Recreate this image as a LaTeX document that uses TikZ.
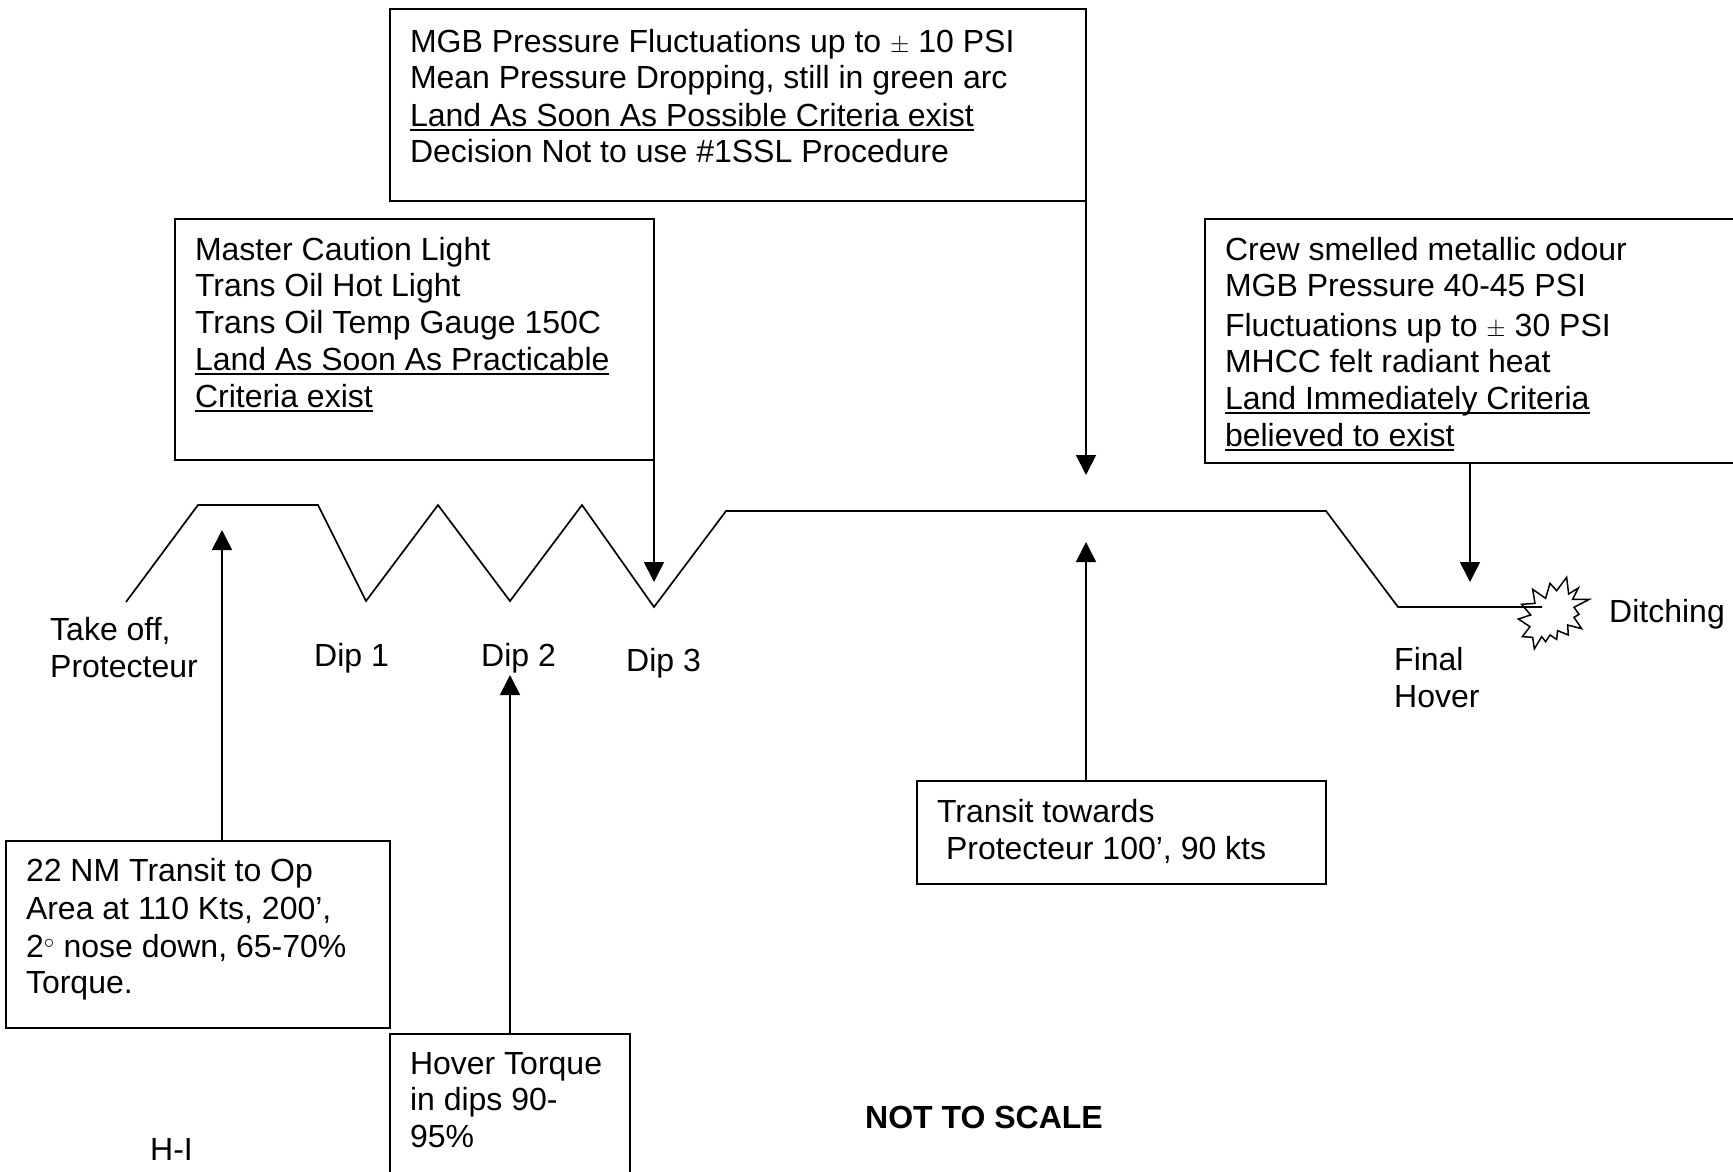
\documentclass[tikz,border=0pt]{standalone}
\usepackage{fontspec}
\setmainfont{Liberation Sans}
\newlength{\undlwd}
\newcommand{\undl}[1]{\leavevmode\settowidth{\undlwd}{#1}\rlap{\rule[-4.5pt]{\undlwd}{1.8pt}}#1}
\usetikzlibrary{arrows.meta, calc}

\begin{document}
\begin{tikzpicture}[
  x=1pt, y=-1pt,
  sbox/.style 2 args={draw=black, line width=1.7pt, anchor=north west, align=flush left,
    font=\fontsize{32}{36.8}\selectfont, outer sep=0pt,
    inner xsep=20pt, inner ysep=20pt, text height=22pt,
    text width=#1, text depth=#2},
  slabel/.style={anchor=base west, align=flush left, inner sep=0pt,
    font=\fontsize{32}{36.8}\selectfont},
  sarrow/.style={draw=black, line width=1.7pt, -{Triangle[length=20pt,width=20pt]}},
  sline/.style={draw=black, line width=1.7pt, line join=miter}
]
  \useasboundingbox (0,0) rectangle (1733,1171);

  \node[sbox={656pt}{129pt}, text height=23pt] (decision) at (390,9) {%
    MGB Pressure Fluctuations up to $\pm$ 10 PSI\\
    Mean Pressure Dropping, still in green arc\\[0.5pt]
    \undl{Land As Soon As Possible Criteria exist}\\
    Decision Not to use \#1SSL Procedure%
  };

  \node[sbox={439pt}{180pt}, text height=21pt] (caution) at (175,219) {%
    Master Caution Light\\
    Trans Oil Hot Light\\
    Trans Oil Temp Gauge 150C\\
    \undl{Land As Soon As Practicable}\\
    \undl{Criteria exist}%
  };

  \node[sbox={491pt}{183pt}, text height=21pt] (odour) at (1205,219) {%
    Crew smelled metallic odour\\
    MGB Pressure 40-45 PSI\\[2.5pt]
    Fluctuations up to $\pm$ 30 PSI\\
    MHCC felt radiant heat\\
    \undl{Land Immediately Criteria}\\
    \undl{believed to exist}%
  };

  \node[sbox={344pt}{127pt}, text height=20pt] (transit) at (6,841) {%
    22 NM Transit to Op\\[1.5pt]
    Area at 110 Kts, 200’,\\[1pt]
    2$^\circ$ nose down, 65-70\%\\
    Torque.%
  };

  \node[sbox={200pt}{82pt}, text height=20pt] (torque) at (390,1034) {%
    Hover Torque\\
    in dips 90-\\
    95\%%
  };

  \node[sbox={369pt}{42pt}, text height=21pt] (towards) at (917,781) {%
    Transit towards\\[1pt]
    \hspace*{9pt}Protecteur 100’, 90 kts%
  };

  \node[slabel] (takeoff) at (50,677) {Take off,\\Protecteur};
  \node[slabel] (dip1) at (314,666) {Dip 1};
  \node[slabel] (dip2) at (481,666) {Dip 2};
  \node[slabel] (dip3) at (626,671) {Dip 3};
  \node[slabel] (final) at (1394,707) {Final\\Hover};
  \node[slabel] (ditching) at (1609,622) {Ditching};
  \node[slabel] (hi) at (150,1160) {H-I};
  \node[slabel, font=\fontsize{32}{36.8}\selectfont\bfseries] (scale) at (865,1128) {NOT TO SCALE};

  \coordinate (cruise) at (222,530);
  \coordinate (hovertip) at (510,675);
  \coordinate (dip3tip) at (654,582);
  \coordinate (rtbtip) at (1086,475);
  \coordinate (towardstip) at (1086,542);
  \coordinate (finaltip) at (1470,582);
  \coordinate (crash) at (1542,607);

  \draw[sline] (126,602) -- (198,505) -- (318,505) -- (366,601) -- (438,505)
    -- (510,601) -- (582,505) -- (654,607) -- (726,511) -- (1326,511)
    -- (1398,607) -- (crash);

  \draw[sarrow] (transit.north -| cruise) -- (cruise);
  \draw[sarrow] (torque.north -| hovertip) -- (hovertip);
  \draw[sarrow] (caution.south -| dip3tip) -- (dip3tip);
  \draw[sarrow] (decision.south east) -- (rtbtip);
  \draw[sarrow] (towards.north -| towardstip) -- (towardstip);
  \draw[sarrow] (odour.south -| finaltip) -- (finaltip);

  \draw[line width=1.5pt, line join=miter, shift={(1380,520)}, x=0.3333pt, y=-0.3333pt]
    (560,172) -- (566,222) -- (595,204) -- (578,238) -- (628,238) -- (582,262)
    -- (597,283) -- (582,292) -- (605,326) -- (563,315) -- (565,345) -- (533,332)
    -- (530,358) -- (510,345) -- (497,365) -- (485,350) -- (463,387) -- (458,352)
    -- (427,350) -- (450,320) -- (415,297) -- (452,285) -- (425,253) -- (465,250)
    -- (458,208) -- (497,235) -- (510,190) -- (530,212) -- cycle;
\end{tikzpicture}
\end{document}
